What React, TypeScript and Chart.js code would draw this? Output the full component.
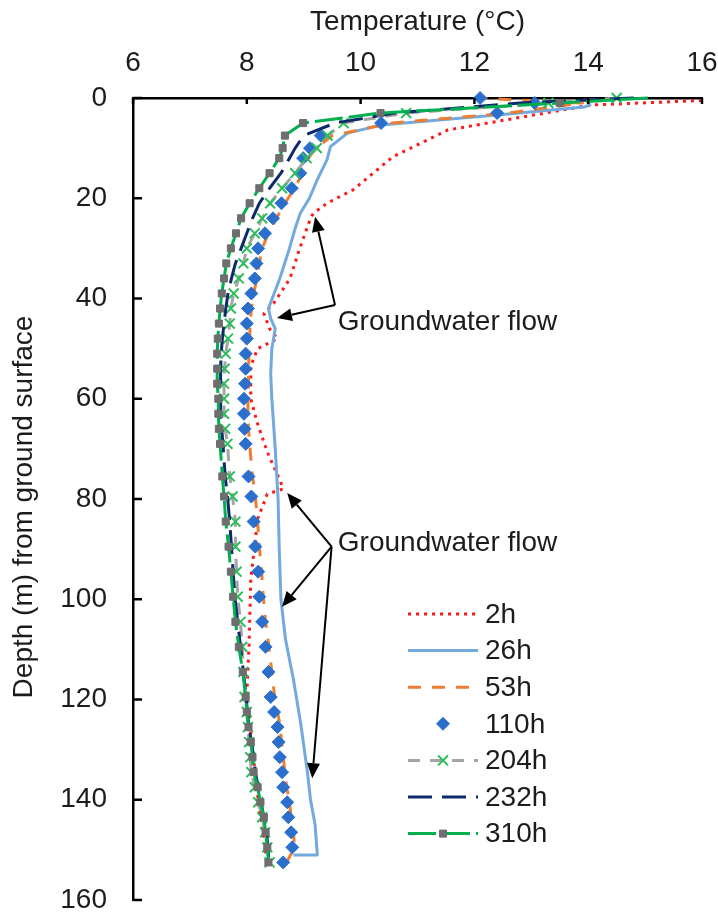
import React, { useEffect, useRef } from 'react';
import { Chart, registerables } from 'chart.js';

Chart.register(...registerables);

// ---------- data ----------
const xTickValues = [6, 8, 10, 12, 14, 16];
const yTickValues = [0, 20, 40, 60, 80, 100, 120, 140, 160];
const xTitle = 'Temperature (°C)';
const yTitle = 'Depth (m) from ground surface';
const seriesNames = ['2h', '26h', '53h', '110h', '204h', '232h', '310h'];

const depth2h = [0.5, 1.4, 6.4, 11.7, 15, 18.3, 21, 23, 24, 30, 36, 41, 43, 46, 48, 50, 53.5, 60, 65, 70.6, 76.5, 78, 79, 84, 96, 109, 119, 130, 140, 152];
const temp2h = [16.0, 14.05, 11.53, 10.57, 10.22, 9.87, 9.41, 9.17, 9.12, 8.93, 8.76, 8.47, 8.3, 8.4, 8.54, 8.19, 8.07, 8.07, 8.19, 8.36, 8.59, 8.64, 8.36, 8.19, 8.07, 8.04, 8.0, 8.1, 8.2, 8.35];

const depth26h = [1.2, 1.8, 3.4, 5.4, 7, 9.7, 12.3, 16.3, 20, 23, 26, 30, 36, 42, 44, 46, 50, 55, 60, 70, 80, 90, 100, 108, 116, 125, 134, 140, 145, 151, 151];
const temp26h = [14.05, 13.93, 12.4, 10.36, 9.77, 9.47, 9.41, 9.24, 9.1, 8.94, 8.85, 8.75, 8.58, 8.38, 8.42, 8.5, 8.44, 8.42, 8.44, 8.5, 8.55, 8.57, 8.6, 8.68, 8.82, 8.95, 9.06, 9.12, 9.2, 9.24, 8.82];

const depthGrid = [0, 1, 3, 5, 7.5, 10, 12, 15, 18, 21, 24, 27, 30, 33, 36, 39, 42, 45, 48, 51, 54, 57, 60, 63, 66, 69, 75.5, 79.5, 84.5, 89.5, 94.5, 99.5, 104.5, 109.5, 114.5, 119.5, 122.5, 125.5, 128.5, 131.5, 134.5, 137.5, 140.5, 143.5, 146.5, 149.5, 152.5];
const temp53h = [12.0, 13.9, 12.6, 10.55, 9.5, 9.22, 9.08, 8.98, 8.84, 8.67, 8.52, 8.38, 8.27, 8.22, 8.18, 8.12, 8.08, 8.06, 8.05, 8.04, 8.03, 8.03, 8.02, 8.02, 8.03, 8.05, 8.1, 8.15, 8.19, 8.22, 8.26, 8.29, 8.33, 8.39, 8.44, 8.49, 8.54, 8.59, 8.61, 8.64, 8.67, 8.7, 8.75, 8.78, 8.82, 8.84, 8.7];
const temp110h = [12.1, 13.06, 12.4, 10.36, 9.3, 9.11, 8.99, 8.94, 8.79, 8.61, 8.46, 8.32, 8.2, 8.17, 8.14, 8.08, 8.02, 8.0, 8.0, 7.98, 7.98, 7.97, 7.95, 7.95, 7.96, 7.98, 8.03, 8.08, 8.12, 8.15, 8.2, 8.22, 8.27, 8.33, 8.38, 8.42, 8.48, 8.54, 8.56, 8.58, 8.62, 8.64, 8.71, 8.73, 8.78, 8.8, 8.64];
const temp204h = [14.5, 13.3, 10.8, 9.7, 9.42, 9.23, 9.05, 8.85, 8.62, 8.41, 8.27, 8.14, 8.0, 7.94, 7.86, 7.77, 7.72, 7.7, 7.67, 7.63, 7.61, 7.6, 7.6, 7.6, 7.62, 7.66, 7.7, 7.75, 7.8, 7.8, 7.82, 7.84, 7.89, 7.92, 7.94, 7.96, 8.0, 8.02, 8.04, 8.06, 8.08, 8.14, 8.2, 8.27, 8.32, 8.36, 8.4];
const temp232h = [14.8, 12.8, 10.6, 9.55, 9.0, 8.85, 8.75, 8.6, 8.4, 8.22, 8.1, 8.0, 7.9, 7.8, 7.73, 7.67, 7.63, 7.6, 7.57, 7.55, 7.54, 7.54, 7.54, 7.54, 7.56, 7.58, 7.62, 7.66, 7.7, 7.73, 7.76, 7.79, 7.84, 7.89, 7.94, 7.99, 8.01, 8.04, 8.08, 8.12, 8.15, 8.2, 8.25, 8.3, 8.35, 8.37, 8.39];
const temp310h = [15.05, 13.5, 10.35, 8.99, 8.67, 8.63, 8.57, 8.4, 8.22, 8.05, 7.9, 7.81, 7.72, 7.64, 7.6, 7.56, 7.53, 7.51, 7.49, 7.48, 7.48, 7.48, 7.5, 7.5, 7.51, 7.53, 7.57, 7.6, 7.63, 7.68, 7.72, 7.76, 7.8, 7.86, 7.93, 7.98, 8.0, 8.03, 8.07, 8.1, 8.12, 8.19, 8.24, 8.3, 8.33, 8.36, 8.38];

// annotations, in data coordinates (temperature, depth)
const noteText = 'Groundwater flow';
const note1Text = [9.6, 44.7];
const note1From = [9.55, 41.3];
const note1Tips = [[9.2, 23.7], [8.53, 43.9]];
const note2Text = [9.6, 88.8];
const note2From = [9.49, 89.5];
const note2Tips = [[8.71, 78.8], [8.62, 101.5], [9.15, 135.7]];

// ---------- styles ----------
const FONT = '"Liberation Sans", Arial, Helvetica, sans-serif';
const FS = 28;
const TEXT = '#1c1c1c';

type Sty = { line: string; width: number; dash: number[]; showLine: boolean; point: string | null; radius: number; pFill: string; pStroke: string; pWidth: number };
const STYLES: Sty[] = [
  { line: '#FF1A1A', width: 3, dash: [3, 5], showLine: true, point: null, radius: 0, pFill: '', pStroke: '', pWidth: 0 },
  { line: '#72A9DE', width: 3, dash: [], showLine: true, point: null, radius: 0, pFill: '', pStroke: '', pWidth: 0 },
  { line: '#ED7D31', width: 3, dash: [13, 11], showLine: true, point: null, radius: 0, pFill: '', pStroke: '', pWidth: 0 },
  { line: '#2A6FCC', width: 0, dash: [], showLine: false, point: 'rectRot', radius: 6.5, pFill: '#2A6FCC', pStroke: '#2A6FCC', pWidth: 1 },
  { line: '#A5A5A5', width: 3, dash: [12, 10], showLine: true, point: 'crossRot', radius: 7, pFill: '#2DBE5C', pStroke: '#2DBE5C', pWidth: 2 },
  { line: '#0D2A6B', width: 3, dash: [24, 10], showLine: true, point: null, radius: 0, pFill: '', pStroke: '', pWidth: 0 },
  { line: '#00B050', width: 3, dash: [28, 6], showLine: true, point: 'rect', radius: 5, pFill: '#6E6E6E', pStroke: '#6E6E6E', pWidth: 1 },
];

const LEG_X0 = 408;
const LEG_X1 = 478;
const LEG_TX = 485;
const LEG_Y0 = 614;
const LEG_DY = 36.6;

function drawMarker(ctx: CanvasRenderingContext2D, s: Sty, x: number, y: number) {
  if (!s.point) return;
  const r = s.radius;
  ctx.save();
  ctx.setLineDash([]);
  ctx.fillStyle = s.pFill;
  ctx.strokeStyle = s.pStroke;
  ctx.lineWidth = s.pWidth;
  ctx.beginPath();
  if (s.point === 'rectRot') {
    ctx.moveTo(x - r, y); ctx.lineTo(x, y - r); ctx.lineTo(x + r, y); ctx.lineTo(x, y + r); ctx.closePath();
    ctx.fill(); ctx.stroke();
  } else if (s.point === 'rect') {
    const h = Math.SQRT1_2 * r;
    ctx.rect(x - h, y - h, 2 * h, 2 * h);
    ctx.fill(); ctx.stroke();
  } else if (s.point === 'crossRot') {
    const h = Math.SQRT1_2 * r;
    ctx.moveTo(x - h, y - h); ctx.lineTo(x + h, y + h);
    ctx.moveTo(x - h, y + h); ctx.lineTo(x + h, y - h);
    ctx.stroke();
  }
  ctx.restore();
}

function drawArrow(ctx: CanvasRenderingContext2D, x0: number, y0: number, x1: number, y1: number) {
  const ang = Math.atan2(y1 - y0, x1 - x0);
  const L = 15, W = 6.5;
  const bx = x1 - L * Math.cos(ang);
  const by = y1 - L * Math.sin(ang);
  ctx.beginPath(); ctx.moveTo(x0, y0); ctx.lineTo(bx, by); ctx.stroke();
  ctx.beginPath();
  ctx.moveTo(x1, y1);
  ctx.lineTo(bx + W * Math.sin(ang), by - W * Math.cos(ang));
  ctx.lineTo(bx - W * Math.sin(ang), by + W * Math.cos(ang));
  ctx.closePath(); ctx.fill();
}

const overlay = {
  id: 'overlay',
  afterDraw(chart: any) {
    const ctx: CanvasRenderingContext2D = chart.ctx;
    const xs = chart.scales.x;
    const ys = chart.scales.y;
    const a = chart.chartArea;
    ctx.save();
    // inward tick marks
    ctx.strokeStyle = '#000';
    ctx.lineWidth = 2.5;
    xTickValues.forEach((v) => {
      const px = xs.getPixelForValue(v);
      ctx.beginPath(); ctx.moveTo(px, a.top); ctx.lineTo(px, a.top + 6); ctx.stroke();
    });
    yTickValues.forEach((v) => {
      const py = ys.getPixelForValue(v);
      ctx.beginPath(); ctx.moveTo(a.left, py); ctx.lineTo(a.left + 9, py); ctx.stroke();
    });
    // tick labels
    ctx.fillStyle = TEXT;
    ctx.font = `${FS}px ${FONT}`;
    ctx.textBaseline = 'middle';
    ctx.textAlign = 'center';
    xTickValues.forEach((v) => ctx.fillText(String(v), xs.getPixelForValue(v), a.top - 35));
    ctx.textAlign = 'right';
    yTickValues.forEach((v) => ctx.fillText(String(v), a.left - 26, ys.getPixelForValue(v)));
    // axis titles
    ctx.textAlign = 'center';
    ctx.fillText(xTitle, (a.left + a.right) / 2, 22);
    ctx.save();
    ctx.translate(24, (a.top + a.bottom) / 2 + 8);
    ctx.rotate(-Math.PI / 2);
    ctx.fillText(yTitle, 0, 0);
    ctx.restore();
    // annotations
    ctx.strokeStyle = '#000';
    ctx.fillStyle = '#000';
    ctx.lineWidth = 2;
    const notes = [
      { t: note1Text, f: note1From, tips: note1Tips },
      { t: note2Text, f: note2From, tips: note2Tips },
    ];
    notes.forEach((n) => {
      const fx = xs.getPixelForValue(n.f[0]);
      const fy = ys.getPixelForValue(n.f[1]);
      n.tips.forEach((tp) => drawArrow(ctx, fx, fy, xs.getPixelForValue(tp[0]), ys.getPixelForValue(tp[1])));
    });
    ctx.fillStyle = TEXT;
    ctx.textAlign = 'left';
    notes.forEach((n) => ctx.fillText(noteText, xs.getPixelForValue(n.t[0]), ys.getPixelForValue(n.t[1])));
    // legend
    seriesNames.forEach((name, i) => {
      const s = STYLES[i];
      const y = LEG_Y0 + i * LEG_DY;
      if (s.showLine) {
        ctx.save();
        ctx.strokeStyle = s.line;
        ctx.lineWidth = s.width;
        ctx.setLineDash(s.dash);
        ctx.beginPath(); ctx.moveTo(LEG_X0, y); ctx.lineTo(LEG_X1, y); ctx.stroke();
        ctx.restore();
      }
      drawMarker(ctx, s, (LEG_X0 + LEG_X1) / 2, y);
      ctx.fillStyle = TEXT;
      ctx.textAlign = 'left';
      ctx.fillText(name, LEG_TX, y + 1);
    });
    ctx.restore();
  },
};

function pts(xsArr: number[], ysArr: number[]) {
  return xsArr.map((t, i) => ({ x: t, y: ysArr[i] }));
}

export default function App() {
  const ref = useRef<HTMLCanvasElement | null>(null);
  useEffect(() => {
    if (!ref.current) return;
    const series = [
      pts(temp2h, depth2h),
      pts(temp26h, depth26h),
      pts(temp53h, depthGrid),
      pts(temp110h, depthGrid),
      pts(temp204h, depthGrid),
      pts(temp232h, depthGrid),
      pts(temp310h, depthGrid),
    ];
    const datasets = series.map((data, i) => {
      const s = STYLES[i];
      return {
        label: seriesNames[i],
        data,
        showLine: s.showLine,
        borderColor: s.line,
        borderWidth: s.width,
        borderDash: s.dash,
        borderCapStyle: 'butt',
        borderJoinStyle: 'round',
        tension: 0,
        fill: false,
        clip: false,
        order: seriesNames.length - 1 - i,
        pointStyle: s.point || 'circle',
        pointRadius: s.point ? (ctx: any) => (i === 6 && ctx.dataIndex === 0 ? 0 : s.radius) : 0,
        pointBackgroundColor: s.pFill || s.line,
        pointBorderColor: s.pStroke || s.line,
        pointBorderWidth: s.pWidth,
        pointHoverRadius: 0,
      } as any;
    });
    const chart = new Chart(ref.current, {
      type: 'scatter',
      data: { datasets },
      options: {
        responsive: false,
        animation: false,
        events: [],
        layout: { padding: { left: 0, top: 0, right: 16, bottom: 14 } },
        plugins: { legend: { display: false }, tooltip: { enabled: false }, title: { display: false } },
        scales: {
          x: {
            type: 'linear',
            position: 'top',
            min: 6,
            max: 16,
            grid: { display: false, drawTicks: false },
            border: { display: true, color: '#000', width: 2.5 },
            ticks: { display: false, stepSize: 2 },
            afterFit: (sc: any) => { sc.height = 98; },
          },
          y: {
            type: 'linear',
            position: 'left',
            reverse: true,
            min: 0,
            max: 160,
            grid: { display: false, drawTicks: false },
            border: { display: true, color: '#000', width: 2.5 },
            ticks: { display: false, stepSize: 20 },
            afterFit: (sc: any) => { sc.width = 133; },
          },
        },
      },
      plugins: [overlay],
    } as any);
    return () => chart.destroy();
  }, []);
  return (
    <div style={{ position: 'absolute', left: 0, top: 0, width: 718, height: 914, background: '#fff' }}>
      <canvas ref={ref} width={718} height={914} style={{ display: 'block' }} />
    </div>
  );
}
